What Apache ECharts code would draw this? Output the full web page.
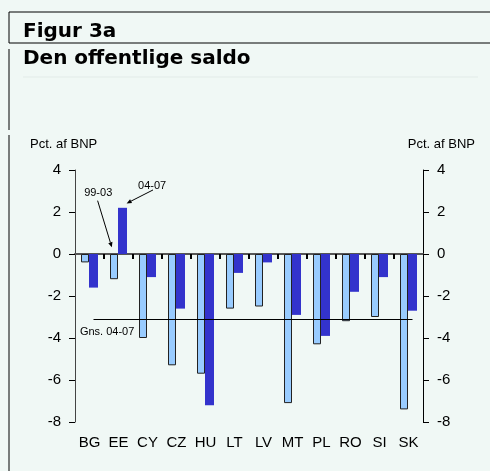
<!DOCTYPE html>
<html>
<head>
<meta charset="utf-8">
<script src="https://cdn.jsdelivr.net/npm/echarts@6/dist/echarts.min.js"></script>
<style>
  html, body { margin: 0; padding: 0; background: #f0f8f5; }
  #main { width: 490px; height: 471px; }
</style>
</head>
<body>
<div id="main"></div>
<script>
// lande
var categories = ['BG', 'EE', 'CY', 'CZ', 'HU', 'LT', 'LV', 'MT', 'PL', 'RO', 'SI', 'SK'];
// offentlig saldo, pct. af BNP
var saldo9903 = [-0.4, -1.2, -4.0, -5.3, -5.7, -2.6, -2.5, -7.1, -4.3, -3.2, -3.0, -7.4];
var saldo0407 = [-1.6, 2.2, -1.1, -2.6, -7.2, -0.9, -0.4, -2.9, -3.9, -1.8, -1.1, -2.7];
var gns0407 = -3.1;
var yTicks = [-8, -6, -4, -2, 0, 2, 4];

var chart = echarts.init(document.getElementById('main'));
var FONT = 'Arial, "Liberation Sans", sans-serif';

var option = {
    backgroundColor: '#f0f8f5',
    animation: false,
    title: [
        { text: 'Figur 3a', left: 18, top: 17,
          textStyle: { fontFamily: '"DejaVu Sans", sans-serif', fontWeight: 'bold', fontSize: 20, color: '#000' } },
        { text: 'Den offentlige saldo', left: 18, top: 44,
          textStyle: { fontFamily: '"DejaVu Sans", sans-serif', fontWeight: 'bold', fontSize: 20, color: '#000' } },
        { text: 'Pct. af BNP', left: 25, top: 133,
          textStyle: { fontFamily: FONT, fontWeight: 'normal', fontSize: 13, color: '#000' } },
        { text: 'Pct. af BNP', right: 10, top: 133,
          textStyle: { fontFamily: FONT, fontWeight: 'normal', fontSize: 13, color: '#000' } }
    ],
    grid: { left: 75, right: 67, top: 170, bottom: 49 },
    xAxis: [
        {
            type: 'category',
            data: categories,
            position: 'bottom',
            axisLine: { show: false, onZero: false },
            axisTick: { show: false },
            axisLabel: { interval: 0, margin: 13, fontFamily: FONT, fontSize: 15, color: '#000' }
        },
        {
            // nul-linjen
            type: 'category',
            data: categories,
            position: 'bottom',
            axisLine: { show: true, onZero: true, lineStyle: { color: '#555', width: 2 } },
            axisTick: { show: false },
            axisLabel: { show: false }
        }
    ],
    yAxis: [
        {
            type: 'value', position: 'left',
            min: -8, max: 4, interval: 2,
            axisLine: { show: true, onZero: false, lineStyle: { color: '#444', width: 1 } },
            axisTick: { show: true, length: 6, lineStyle: { color: '#000' } },
            axisLabel: { margin: 14, fontFamily: FONT, fontSize: 15, color: '#000',
                formatter: function (v) { return yTicks.indexOf(v) >= 0 ? String(v) : ''; } },
            splitLine: { show: false }
        },
        {
            type: 'value', position: 'right',
            min: -8, max: 4, interval: 2,
            axisLine: { show: true, onZero: false, lineStyle: { color: '#000', width: 1 } },
            axisTick: { show: true, length: 6, lineStyle: { color: '#000' } },
            axisLabel: { margin: 14, fontFamily: FONT, fontSize: 15, color: '#000' },
            splitLine: { show: false }
        }
    ],
    series: [
        {
            name: '99-03',
            type: 'bar',
            data: saldo9903,
            barWidth: 8,
            barGap: 0,
            itemStyle: { color: '#99ccff', borderColor: '#222', borderWidth: 1 }
        },
        {
            name: '04-07',
            type: 'bar',
            data: saldo0407,
            barWidth: 9,
            barGap: 0,
            itemStyle: { color: '#3333cc' },
            markLine: {
                silent: true,
                symbol: ['none', 'none'],
                label: { show: false },
                lineStyle: { color: '#000', width: 1, type: 'solid' },
                data: [[
                    { coord: [categories[0], gns0407] },
                    { coord: [categories[categories.length - 1], gns0407] }
                ]]
            }
        }
    ]
};
chart.setOption(option);

// rammelinjer
function hline(x1, x2, y, color) {
    return { type: 'line', shape: { x1: x1, y1: y, x2: x2, y2: y }, style: { stroke: color || '#000', lineWidth: 1 }, silent: true };
}
function vline(x, y1, y2) {
    return { type: 'line', shape: { x1: x, y1: y1, x2: x, y2: y2 }, style: { stroke: '#000', lineWidth: 1 }, silent: true };
}

// punkt i dataplan: c = kategoriindeks (kan være brøk), v = værdi
function pt(c, v) {
    var a = chart.convertToPixel({ xAxisIndex: 0, yAxisIndex: 0 }, [0, v]);
    var b = chart.convertToPixel({ xAxisIndex: 0, yAxisIndex: 0 }, [1, v]);
    return [a[0] + c * (b[0] - a[0]), a[1]];
}

function arrow(from, to) {
    var p1 = pt(from[0], from[1]), p2 = pt(to[0], to[1]);
    var dx = p2[0] - p1[0], dy = p2[1] - p1[1];
    var len = Math.sqrt(dx * dx + dy * dy);
    var ux = dx / len, uy = dy / len;
    var hl = 5, hw = 2.2;
    var bx = p2[0] - ux * hl, by = p2[1] - uy * hl;
    return [
        { type: 'line', shape: { x1: p1[0], y1: p1[1], x2: bx, y2: by }, style: { stroke: '#000', lineWidth: 1 }, silent: true },
        { type: 'polygon', shape: { points: [[p2[0], p2[1]], [bx - uy * hw, by + ux * hw], [bx + uy * hw, by - ux * hw]] },
          style: { fill: '#000' }, silent: true }
    ];
}

function note(text, c, v, align) {
    var p = pt(c, v);
    return { type: 'text', x: p[0], y: p[1], silent: true,
        style: { text: text, font: '11px ' + FONT, fill: '#000', align: align || 'center', verticalAlign: 'middle' } };
}

var g = [
    hline(9, 490, 12),
    vline(9, 12, 43),
    hline(9, 490, 43),
    vline(9, 49, 130),
    hline(23, 478, 77, '#e2ebe8'),
    vline(9, 135, 471),
    note('99-03', 0.30, 2.9),
    note('04-07', 2.16, 3.24),
    note('Gns. 04-07', -0.33, gns0407 - 0.6, 'left')
];
// streger på nul-linjen mellem landene
for (var i = 1; i < categories.length; i++) {
    var tp = pt(i - 0.5, 0);
    g.push({ type: 'rect', z: 10, silent: true,
        shape: { x: Math.round(tp[0]) - 1, y: Math.round(tp[1]), width: 2, height: 5 },
        style: { fill: '#000' } });
}
g = g.concat(arrow([0.28, 2.54], [0.77, 0.32]));
g = g.concat(arrow([2.19, 3.05], [1.28, 2.41]));
chart.setOption({ graphic: { elements: g } });
</script>
</body>
</html>
